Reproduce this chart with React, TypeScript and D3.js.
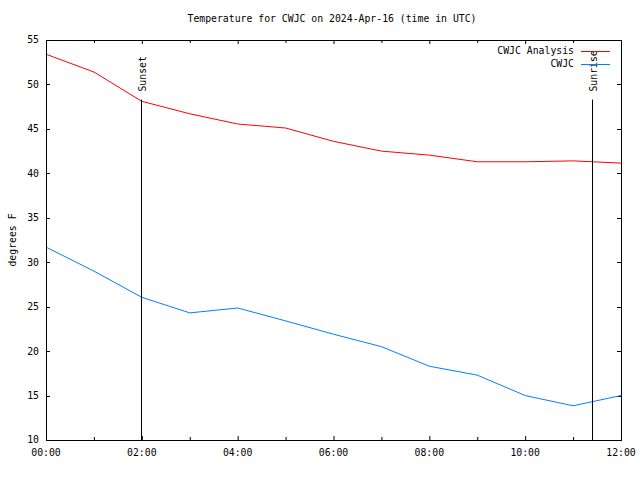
import React from "react";
import * as d3 from "d3";

const hours = [0, 1, 2, 3, 4, 5, 6, 7, 8, 9, 10, 11, 12];
const analysisValues = [53.4, 51.4, 48.1, 46.7, 45.55, 45.1, 43.6, 42.5, 42.05, 41.3, 41.3, 41.4, 41.15];
const cwjcValues = [31.7, 29.0, 26.05, 24.3, 24.85, 23.4, 21.9, 20.5, 18.3, 17.3, 15.0, 13.85, 15.0];
const yTicks = [10, 15, 20, 25, 30, 35, 40, 45, 50, 55];
const xLabelHours = [0, 2, 4, 6, 8, 10, 12];
const events = [
  { label: "Sunset", hour: 1.98 },
  { label: "Sunrise", hour: 11.4 },
];
const eventTop = 48.3;
const legendItems = [
  { name: "CWJC Analysis", color: "#ff0000" },
  { name: "CWJC", color: "#0080ff" },
];

const W = 640, H = 480;
const L = 46, R = 621, T = 40, B = 440;
const FONT = "'DejaVu Sans Mono', 'Liberation Mono', monospace";
const FS = 9.8;

function fmt(h: number) {
  return String(h).padStart(2, "0") + ":00";
}

export default function App() {
  const x = d3.scaleLinear().domain([0, 12]).range([L, R]);
  const y = d3.scaleLinear().domain([10, 55]).range([B, T]);
  const line = d3.line<number>().x((_, i) => x(hours[i])).y((d) => y(d));

  return (
    <svg width={W} height={H} style={{ position: "absolute", left: 0, top: 0, background: "#fff" }}
      fontFamily={FONT} fontSize={FS}>
      <rect x={0} y={0} width={W} height={H} fill="#fff" />
      {/* ticks */}
      {hours.map((h) => {
        const len = h % 2 === 0 ? 4 : 3;
        return (
          <g key={"xt" + h} stroke="#000" strokeWidth={1}>
            <line x1={x(h) + 0.5} x2={x(h) + 0.5} y1={B} y2={B - len} />
            <line x1={x(h) + 0.5} x2={x(h) + 0.5} y1={T} y2={T + len} />
          </g>
        );
      })}
      {yTicks.map((v) => (
        <g key={"yt" + v} stroke="#000" strokeWidth={1}>
          <line x1={L} x2={L + 4} y1={Math.round(y(v)) + 0.5} y2={Math.round(y(v)) + 0.5} />
          <line x1={R} x2={R - 4} y1={Math.round(y(v)) + 0.5} y2={Math.round(y(v)) + 0.5} />
        </g>
      ))}
      {yTicks.map((v) => (
        <text key={"yl" + v} x={L - 7} y={y(v)} dy="0.35em" textAnchor="end" fill="#000">{v}</text>
      ))}
      {xLabelHours.map((h) => (
        <text key={"xl" + h} x={x(h)} y={B + 16} textAnchor="middle" fill="#000">{fmt(h)}</text>
      ))}
      {/* data */}
      <path d={line(analysisValues) || ""} fill="none" stroke={legendItems[0].color} strokeWidth={1} />
      <path d={line(cwjcValues) || ""} fill="none" stroke={legendItems[1].color} strokeWidth={1} />
      {/* events */}
      {events.map((e) => (
        <g key={e.label}>
          <line x1={Math.round(x(e.hour)) + 0.5} x2={Math.round(x(e.hour)) + 0.5} y1={B} y2={y(eventTop)} stroke="#000" strokeWidth={1} />
          <text transform={`translate(${x(e.hour) + 5},${y(eventTop) - 8}) rotate(-90)`} fill="#000">{e.label}</text>
        </g>
      ))}
      {/* legend */}
      {legendItems.map((it, i) => (
        <g key={it.name}>
          <text x={574} y={51 + i * 12.7} dy="0.35em" textAnchor="end" fill="#000">{it.name}</text>
          <line x1={581} x2={610} y1={Math.round(51 + i * 12.7) + 0.5} y2={Math.round(51 + i * 12.7) + 0.5} stroke={it.color} strokeWidth={1} />
        </g>
      ))}
      {/* border */}
      <rect x={L + 0.5} y={T + 0.5} width={R - L} height={B - T} fill="none" stroke="#000" strokeWidth={1} />
      {/* title & axis label */}
      <text x={332} y={19} dy="0.35em" textAnchor="middle" fill="#000">Temperature for CWJC on 2024-Apr-16 (time in UTC)</text>
      <text transform={`translate(13,${(T + B) / 2}) rotate(-90)`} textAnchor="middle" dy="0.35em" fill="#000">degrees F</text>
    </svg>
  );
}
